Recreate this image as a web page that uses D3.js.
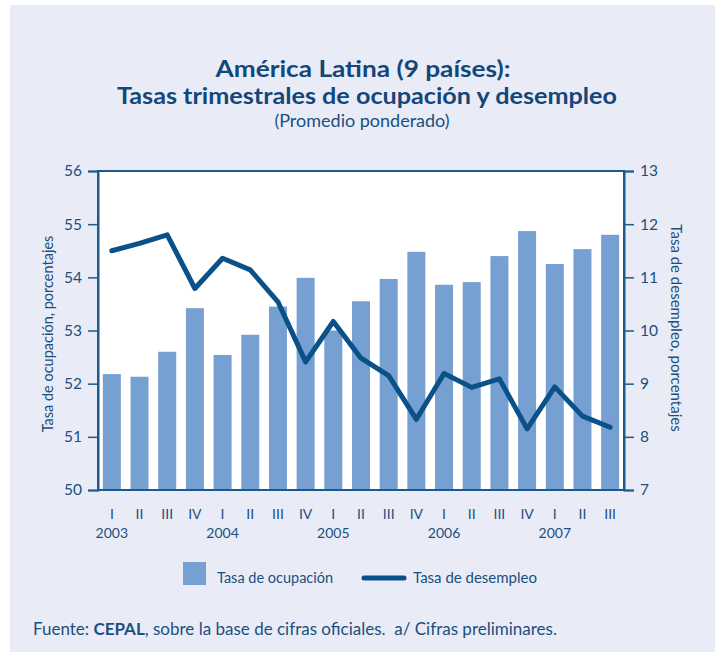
<!DOCTYPE html>
<html>
<head>
<meta charset="utf-8">
<script src="https://cdn.jsdelivr.net/npm/d3@7"></script>
<style>
  html, body { margin: 0; padding: 0; background: #ffffff; }
  svg { display: block; font-family: Lato, "Open Sans", sans-serif; }
</style>
</head>
<body>
<svg id="chart" width="717" height="652"></svg>
<script>
// ---- Data ----
const quarters = ["I","II","III","IV","I","II","III","IV","I","II","III","IV","I","II","III","IV","I","II","III"];
const years = ["2003","2003","2003","2003","2004","2004","2004","2004","2005","2005","2005","2005","2006","2006","2006","2006","2007","2007","2007"];
const ocupacion = [52.18, 52.13, 52.60, 53.42, 52.54, 52.92, 53.45, 53.99, 53.00, 53.55, 53.97, 54.48, 53.86, 53.91, 54.40, 54.87, 54.25, 54.53, 54.80];
const desempleo = [11.50, 11.64, 11.80, 10.79, 11.36, 11.14, 10.54, 9.41, 10.17, 9.48, 9.15, 8.33, 9.19, 8.93, 9.09, 8.15, 8.94, 8.39, 8.18];
const leftTicks = [50, 51, 52, 53, 54, 55, 56];
const rightTicks = [7, 8, 9, 10, 11, 12, 13];

// ---- Styles ----
const textColor = "#1b4f80";
const axisColor = "#1d5a8c";
const barColor = "#769fd2";
const lineColor = "#0b5189";
const bgColor = "#e9ecf6";

const svg = d3.select("#chart");
svg.append("rect").attr("x", 10).attr("y", 5).attr("width", 705).attr("height", 660).attr("fill", bgColor);

const m = { left: 98, right: 624, top: 171, bottom: 490 };
const idx = d3.range(quarters.length);

const x = d3.scaleBand().domain(idx).range([m.left, m.right]).paddingInner(0.35).paddingOuter(0.175);
const yL = d3.scaleLinear().domain([50, 56]).range([m.bottom, m.top]);
const yR = d3.scaleLinear().domain([7, 13]).range([m.bottom, m.top]);

// plot area
svg.append("rect").attr("x", m.left).attr("y", m.top)
  .attr("width", m.right - m.left).attr("height", m.bottom - m.top).attr("fill", "#ffffff");

// bars
svg.append("g").selectAll("rect").data(idx).join("rect")
  .attr("x", i => x(i))
  .attr("y", i => yL(ocupacion[i]))
  .attr("width", x.bandwidth())
  .attr("height", i => yL(50) - yL(ocupacion[i]))
  .attr("fill", barColor);

// line
const line = d3.line().x(i => x(i) + x.bandwidth() / 2).y(i => yR(desempleo[i]));
svg.append("path").datum(idx).attr("d", line)
  .attr("fill", "none").attr("stroke", lineColor).attr("stroke-width", 5)
  .attr("stroke-linejoin", "round").attr("stroke-linecap", "round");

// frame
svg.append("rect").attr("x", m.left).attr("y", m.top)
  .attr("width", m.right - m.left).attr("height", m.bottom - m.top)
  .attr("fill", "none").attr("stroke", axisColor).attr("stroke-width", 2);

// axes
const axL = svg.append("g").attr("transform", `translate(${m.left},0)`)
  .call(d3.axisLeft(yL).tickValues(leftTicks).tickSize(10).tickPadding(6).tickFormat(d3.format("d")));
const axR = svg.append("g").attr("transform", `translate(${m.right},0)`)
  .call(d3.axisRight(yR).tickValues(rightTicks).tickSize(10).tickPadding(6).tickFormat(d3.format("d")));
[axL, axR].forEach(a => {
  a.select(".domain").attr("stroke", axisColor).attr("stroke-width", 2);
  a.selectAll(".tick line").attr("stroke", axisColor).attr("stroke-width", 1.5);
  a.selectAll(".tick text").attr("fill", textColor).attr("font-size", 15.5).attr("font-family", "Lato, sans-serif");
});

// x labels
const xl = svg.append("g");
xl.selectAll("text.q").data(idx).join("text").attr("class", "q")
  .attr("x", i => x(i) + x.bandwidth() / 2).attr("y", 519)
  .attr("text-anchor", "middle").attr("fill", textColor).attr("font-size", 14)
  .text(i => quarters[i]);
xl.selectAll("text.y").data(idx.filter(i => quarters[i] === "I")).join("text").attr("class", "y")
  .attr("x", i => x(i) + x.bandwidth() / 2).attr("y", 538)
  .attr("text-anchor", "middle").attr("fill", textColor).attr("font-size", 14)
  .text(i => years[i]);

// axis titles
svg.append("text").attr("transform", "translate(53,334) rotate(-90)")
  .attr("text-anchor", "middle").attr("fill", textColor).attr("font-size", 14.5)
  .text("Tasa de ocupación, porcentajes");
svg.append("text").attr("transform", "translate(671,328) rotate(90)")
  .attr("text-anchor", "middle").attr("fill", textColor).attr("font-size", 15)
  .text("Tasa de desempleo, porcentajes");

// titles
svg.append("text").attr("x", 363).attr("y", 77).attr("text-anchor", "middle")
  .attr("fill", "#13467a").attr("font-size", 22.5).attr("font-weight", "bold")
  .attr("textLength", 295).attr("lengthAdjust", "spacingAndGlyphs")
  .text("América Latina (9 países):");
svg.append("text").attr("x", 367).attr("y", 104).attr("text-anchor", "middle")
  .attr("fill", "#13467a").attr("font-size", 22.5).attr("font-weight", "bold")
  .attr("textLength", 500).attr("lengthAdjust", "spacingAndGlyphs")
  .text("Tasas trimestrales de ocupación y desempleo");
svg.append("text").attr("x", 362).attr("y", 127).attr("text-anchor", "middle")
  .attr("fill", textColor).attr("font-size", 18)
  .text("(Promedio ponderado)");

// legend
svg.append("rect").attr("x", 183).attr("y", 562).attr("width", 23).attr("height", 23).attr("fill", barColor);
svg.append("text").attr("x", 217).attr("y", 583).attr("fill", textColor).attr("font-size", 14.5).text("Tasa de ocupación");
svg.append("line").attr("x1", 364).attr("x2", 404).attr("y1", 578).attr("y2", 578)
  .attr("stroke", lineColor).attr("stroke-width", 5).attr("stroke-linecap", "round");
svg.append("text").attr("x", 413).attr("y", 583).attr("fill", textColor).attr("font-size", 15).text("Tasa de desempleo");

// footer
const f = svg.append("text").attr("x", 33).attr("y", 635).attr("fill", textColor).attr("font-size", 17)
  .style("white-space", "pre");
f.append("tspan").text("Fuente: ");
f.append("tspan").attr("font-weight", "bold").text("CEPAL");
f.append("tspan").text(", sobre la base de cifras oficiales.  a/ Cifras preliminares.");
</script>
</body>
</html>
